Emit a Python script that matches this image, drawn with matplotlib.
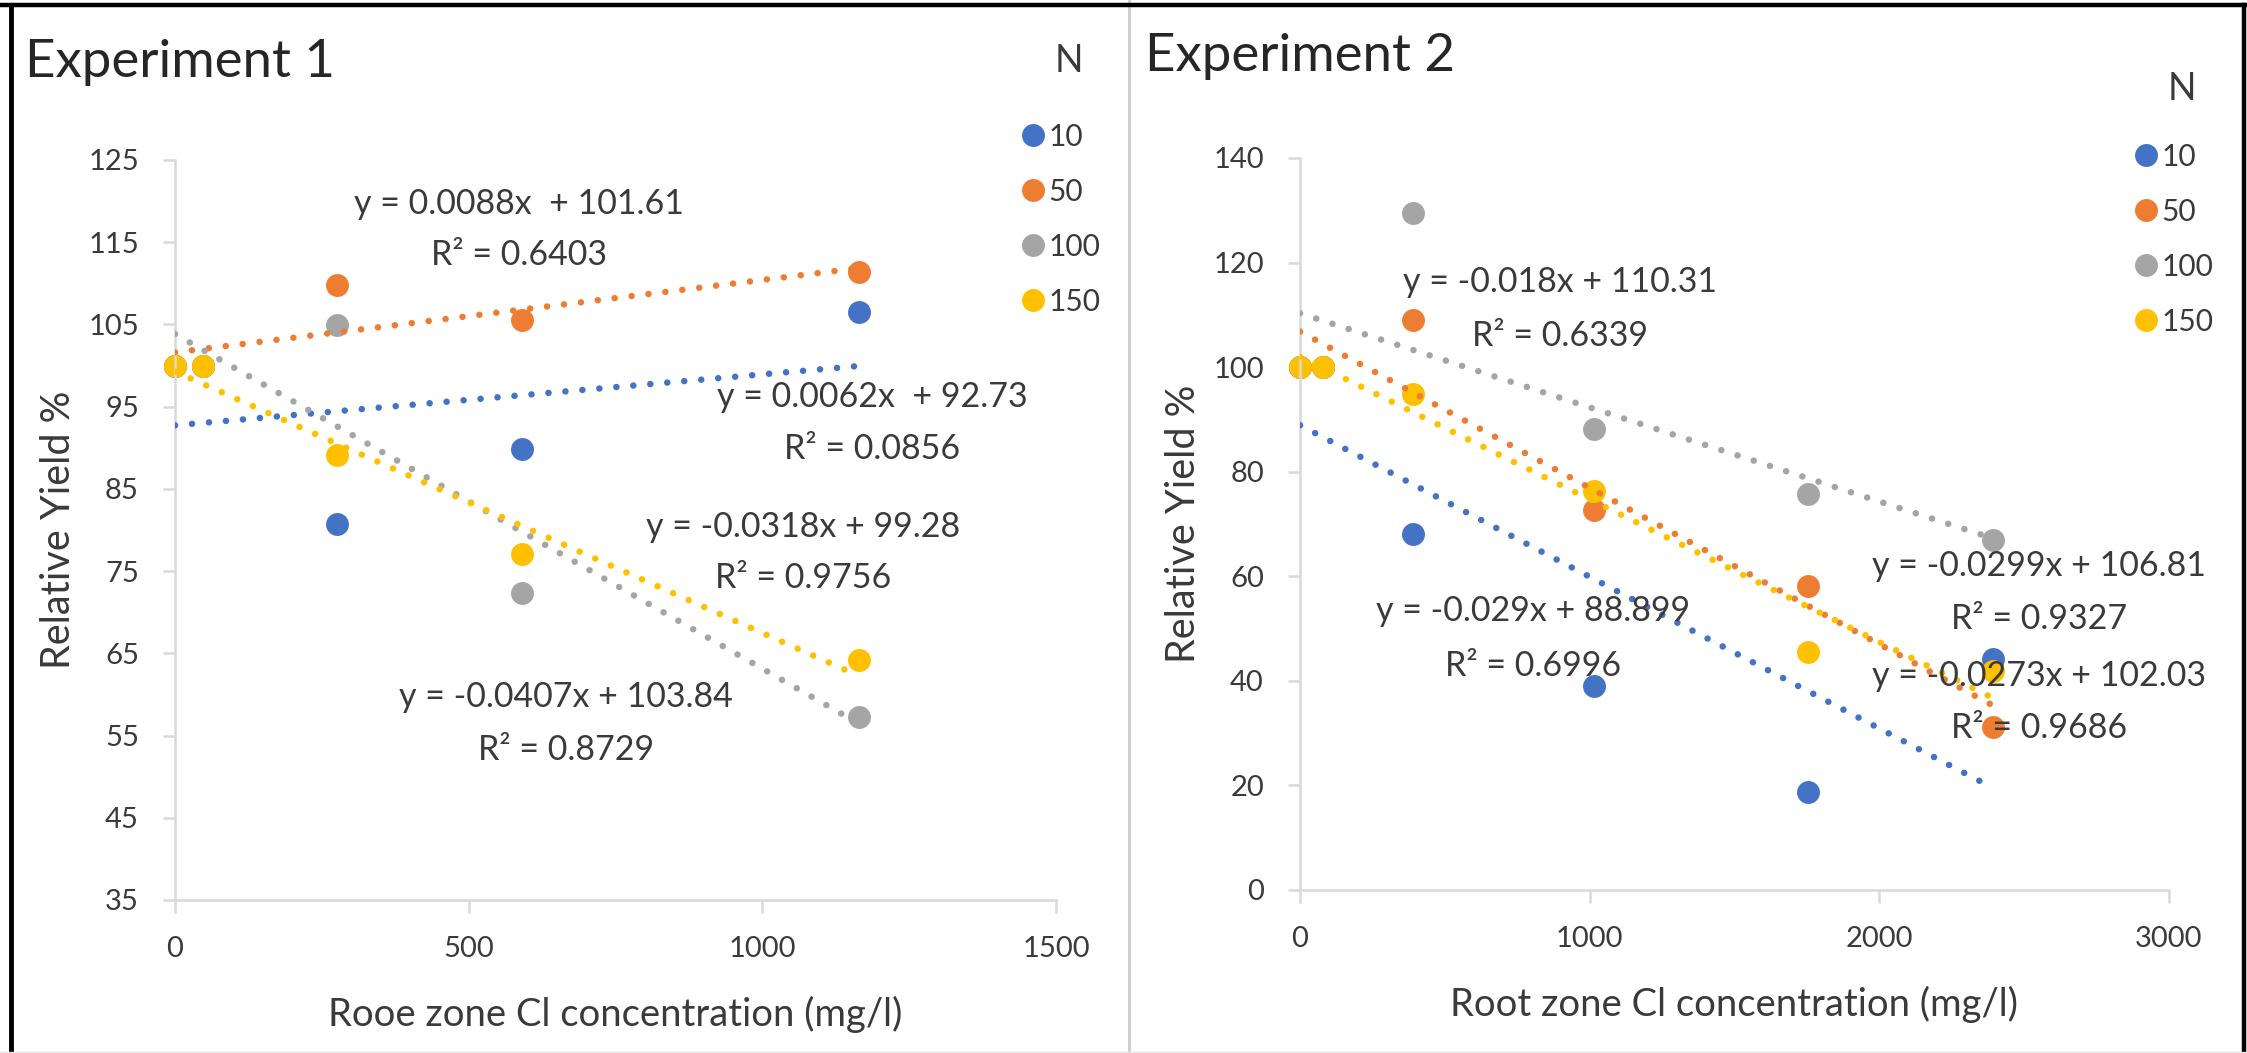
import matplotlib.pyplot as plt
from matplotlib.lines import Line2D
import numpy as np

plt.rcParams['font.family'] = ['Lato', 'DejaVu Sans']

W, H = 2247, 1053

colors = ['#4472C4', '#ED7D31', '#A5A5A5', '#FFC000']
n_levels = ['10', '50', '100', '150']

# Experiment 1
cl_exp1 = [0, 48, 275, 590, 1165]
yield_exp1 = [
    [100, 100, 80.7, 89.8, 106.5],
    [100, 100, 109.8, 105.5, 111.4],
    [100, 100, 104.9, 72.3, 57.3],
    [100, 100, 89.1, 77.1, 64.2],
]
slope_exp1 = [0.0062, 0.0088, -0.0407, -0.0318]
icpt_exp1 = [92.73, 101.61, 103.84, 99.28]
eq_exp1 = ['y = 0.0062x  + 92.73', 'y = 0.0088x  + 101.61',
           'y = -0.0407x + 103.84', 'y = -0.0318x + 99.28']
r2_exp1 = ['0.0856', '0.6403', '0.8729', '0.9756']
eq_pos_exp1 = [(1187, 96.2), (586, 119.7), (665, 59.7), (1070, 80.4)]
r2_pos_exp1 = [(1187, 89.8), (586, 113.4), (665, 53.2), (1070, 74.2)]

# Experiment 2
cl_exp2 = [0, 80, 391, 1016, 1755, 2392]
yield_exp2 = [
    [100, 100, 68.0, 39.1, 18.7, 44.1],
    [100, 100, 109.0, 72.6, 58.1, 31.1],
    [100, 100, 129.4, 88.2, 75.7, 67.0],
    [100, 100, 94.8, 76.3, 45.5, 41.8],
]
slope_exp2 = [-0.029, -0.0299, -0.018, -0.0273]
icpt_exp2 = [88.899, 106.81, 110.31, 102.03]
eq_exp2 = ['y = -0.029x + 88.899', 'y = -0.0299x + 106.81',
           'y = -0.018x + 110.31', 'y = -0.0273x + 102.03']
r2_exp2 = ['0.6996', '0.9327', '0.6339', '0.9686']
eq_pos_exp2 = [(804, 53.4), (2550, 62.0), (898, 116.2), (2550, 41.0)]
r2_pos_exp2 = [(804, 42.9), (2550, 51.9), (898, 106.0), (2550, 31.0)]

txt = '#3A3A3A'
axis_c = '#D9D9D9'

fig = plt.figure(figsize=(W / 100, H / 100), dpi=100)
ax1 = fig.add_axes([175 / W, 1 - 900 / H, 881 / W, 740 / H])
ax2 = fig.add_axes([1300 / W, 1 - 890 / H, 869 / W, 732 / H])


def draw_panel(ax, x, ys, slopes, icpts, eqs, r2s, eq_pos, r2_pos):
    x = np.array(x)
    handles = []
    for i in range(4):
        h, = ax.plot(x, ys[i], 'o', ms=16.5, mew=0, color=colors[i],
                     zorder=2, clip_on=False)
        handles.append(h)
    xf = np.array([0, x.max()])
    for i in range(4):
        ax.plot(xf, slopes[i] * xf + icpts[i], color=colors[i], lw=4.7,
                linestyle=(0, (0.01, 2.6)), dash_capstyle='round', zorder=3)
    for i in range(4):
        ax.text(*eq_pos[i], eqs[i], ha='center', va='center', fontsize=24.5,
                color=txt, zorder=5)
        ax.text(*r2_pos[i], 'R² = ' + r2s[i], ha='center', va='center',
                fontsize=24.5, color=txt, zorder=5)
    for s in ['top', 'right']:
        ax.spines[s].set_visible(False)
    for s in ['left', 'bottom']:
        ax.spines[s].set_color(axis_c)
        ax.spines[s].set_linewidth(1.8)
    ax.tick_params(direction='out', length=9, width=1.8, color=axis_c,
                   labelsize=21, labelcolor=txt, pad=17)
    ax.set_ylabel('Relative Yield %', fontsize=28.5, color=txt, labelpad=8)
    return handles


h1 = draw_panel(ax1, cl_exp1, yield_exp1, slope_exp1, icpt_exp1,
                eq_exp1, r2_exp1, eq_pos_exp1, r2_pos_exp1)
ax1.set_xlim(0, 1500)
ax1.set_ylim(35, 125)
ax1.set_xticks([0, 500, 1000, 1500])
ax1.set_yticks(range(35, 126, 10))
ax1.set_xlabel('Rooe zone Cl concentration (mg/l)', fontsize=27.5, color=txt,
               labelpad=24)

h2 = draw_panel(ax2, cl_exp2, yield_exp2, slope_exp2, icpt_exp2,
                eq_exp2, r2_exp2, eq_pos_exp2, r2_pos_exp2)
ax2.set_xlim(0, 3000)
ax2.set_ylim(0, 140)
ax2.set_xticks([0, 1000, 2000, 3000])
ax2.set_yticks(range(0, 141, 20))
ax2.set_xlabel('Root zone Cl concentration (mg/l)', fontsize=27.5, color=txt,
               labelpad=24)

# legends: "N" heading drawn on its own above the entries
for ax, hs, (lx, ly), (nx, ny) in [(ax1, h1, (1008, 108), (1069, 61)),
                                   (ax2, h2, (2121, 128), (2182, 89))]:
    ax.legend(hs, n_levels, loc='upper left',
              bbox_to_anchor=(lx / W, 1 - ly / H),
              bbox_transform=fig.transFigure, frameon=False,
              fontsize=21.5, handlelength=0.7, handletextpad=0.15,
              labelspacing=0.9, borderpad=0, labelcolor=txt)
    fig.text(nx / W, 1 - ny / H, 'N', fontsize=27, color=txt,
             ha='center', va='center')

fig.text(25 / W, 1 - 77 / H, 'Experiment 1', fontsize=38, color='#262626',
         va='baseline')
fig.text(1145 / W, 1 - 71 / H, 'Experiment 2', fontsize=38, color='#262626',
         va='baseline')

# frame around the two panels
fig.add_artist(Line2D([1129 / W, 1129 / W], [0, 1], color='#D0D0D0', lw=2.2))
fig.add_artist(Line2D([0, 1], [1 - 5 / H, 1 - 5 / H], color='black', lw=3.2))
fig.add_artist(Line2D([10.5 / W, 10.5 / W], [0, 1 - 5 / H], color='black', lw=3.5))
fig.add_artist(Line2D([2244 / W, 2244 / W], [0, 1 - 5 / H], color='black', lw=3.2))
fig.add_artist(Line2D([0, 1], [1 / H, 1 / H], color='#E3E3E3', lw=1))

fig.savefig('out.png', dpi=100)
